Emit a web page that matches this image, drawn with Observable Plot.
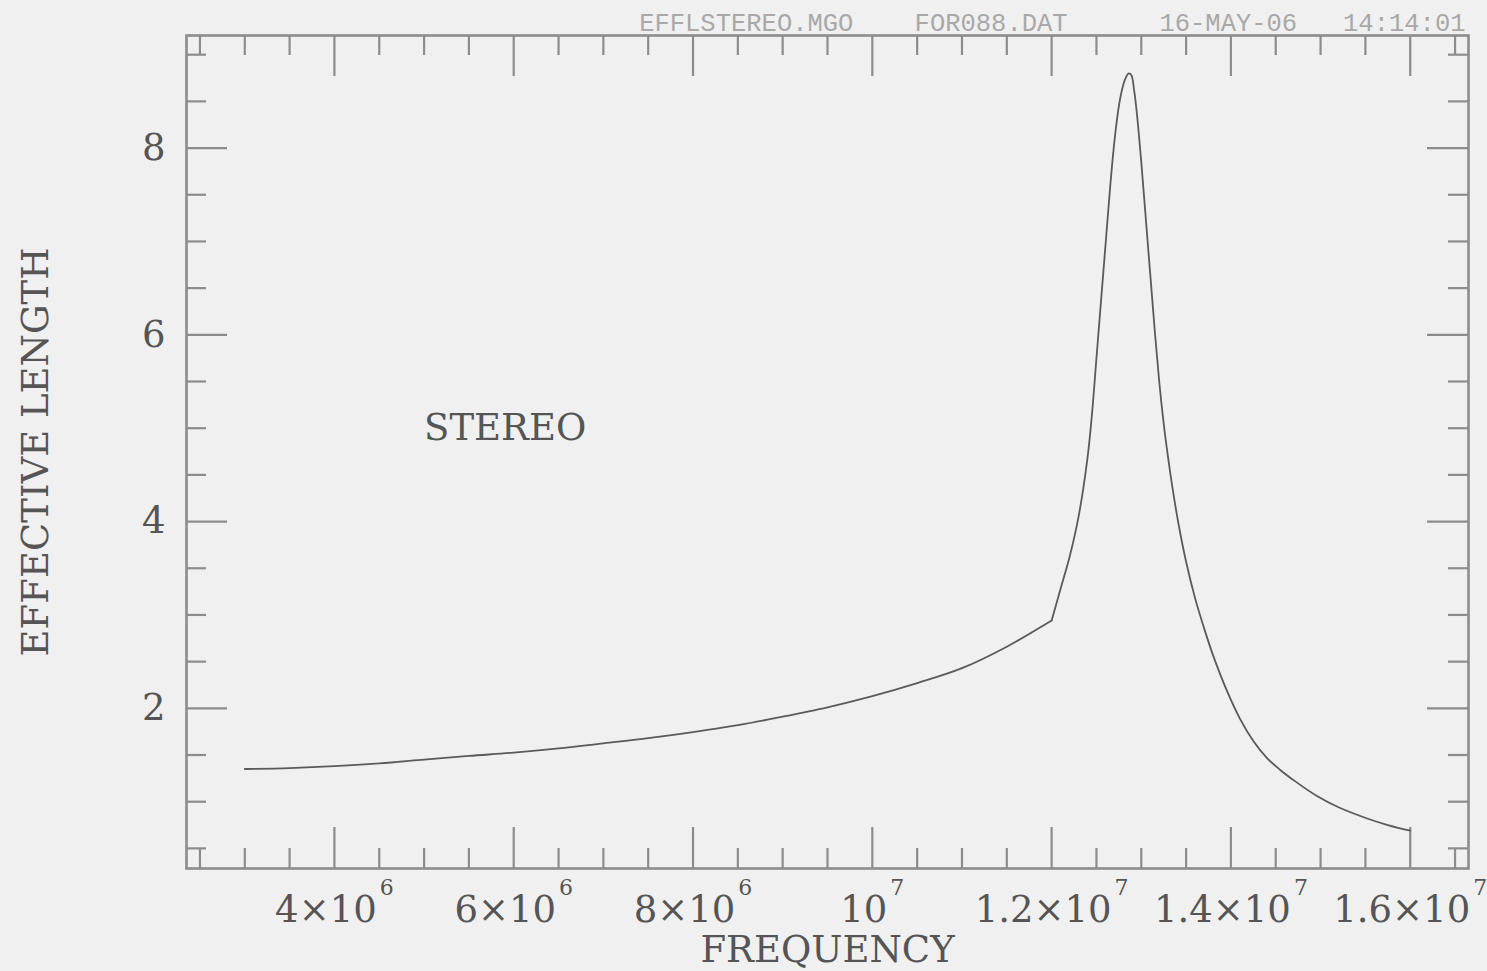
<!DOCTYPE html>
<html>
<head>
<meta charset="utf-8">
<script src="https://cdn.jsdelivr.net/npm/d3@7"></script>
<script src="https://cdn.jsdelivr.net/npm/@observablehq/plot@0.6"></script>
<style>
  html, body { margin: 0; padding: 0; background: #f0f0f0; }
  #chart svg { display: block; }
</style>
</head>
<body>
<div id="chart"></div>
<script>
// ---- data (frequency in units of 1e6 Hz, effective length) ----
const freqMHz = [
  3.0, 3.5, 4.0, 4.5, 5.0, 5.5, 6.0, 6.5, 7.0, 7.5, 8.0, 8.5, 9.0, 9.5, 10.0, 10.5, 11.0, 11.5, 12.0,
  12.1, 12.2, 12.3, 12.4, 12.45, 12.5, 12.55, 12.6, 12.65, 12.7, 12.75, 12.8, 12.83, 12.86, 12.89,
  12.92, 12.95, 13.0, 13.05, 13.1, 13.15, 13.2, 13.25, 13.3, 13.35, 13.42, 13.5, 13.6,
  13.7, 13.8, 13.95, 14.1, 14.25, 14.4, 14.55, 14.7, 14.96, 15.2, 15.52, 15.75, 16.0
];
const effLength = [
  1.35, 1.36, 1.38, 1.41, 1.45, 1.49, 1.525, 1.57, 1.625, 1.68, 1.745, 1.82, 1.91, 2.01, 2.13, 2.27, 2.43, 2.66, 2.94,
  3.28, 3.62, 4.05, 4.68, 5.15, 5.75, 6.35, 6.95, 7.55, 8.07, 8.45, 8.68, 8.76, 8.80, 8.78,
  8.62, 8.38, 7.85, 7.25, 6.65, 6.05, 5.50, 5.05, 4.68, 4.35, 3.95, 3.57, 3.18,
  2.86, 2.57, 2.20, 1.89, 1.65, 1.47, 1.34, 1.23, 1.06, 0.94, 0.82, 0.75, 0.69
];
const kinkMHz = 12.0; // the curve has a sharp corner here

// ---- axes ----
const xMajorTicks = [4e6, 6e6, 8e6, 1e7, 1.2e7, 1.4e7, 1.6e7];
const xTickBase = ["4×10", "6×10", "8×10", "10", "1.2×10", "1.4×10", "1.6×10"];
const xTickExp = ["6", "6", "6", "7", "7", "7", "7"];
const xMinorTicks = [2.5e6, 3e6, 3.5e6, 4.5e6, 5e6, 5.5e6, 6.5e6, 7e6, 7.5e6, 8.5e6, 9e6, 9.5e6,
  1.05e7, 1.1e7, 1.15e7, 1.25e7, 1.3e7, 1.35e7, 1.45e7, 1.5e7, 1.55e7, 1.65e7];
const yMajorTicks = [2, 4, 6, 8];
const yTickLabels = ["2", "4", "6", "8"];
const yMinorTicks = [0.5, 1, 1.5, 2.5, 3, 3.5, 4.5, 5, 5.5, 6.5, 7, 7.5, 8.5, 9];
const xDomain = [2.35e6, 16.65e6];
const yDomain = [0.2845, 9.2055];

const xLabel = "FREQUENCY";
const yLabel = "EFFECTIVE LENGTH";
const annotation = {f: 5e6, L: 5, text: "STEREO"};
const header = "EFFLSTEREO.MGO\u00a0\u00a0\u00a0\u00a0FOR088.DAT\u00a0\u00a0\u00a0\u00a0\u00a0\u00a016-MAY-06\u00a0\u00a0\u00a014:14:01";

const series = freqMHz.map((f, i) => ({f: f * 1e6, L: effLength[i]}));
const lowPart = series.filter(d => d.f <= kinkMHz * 1e6);
const peakPart = series.filter(d => d.f >= kinkMHz * 1e6);

// ---- layout ----
const W = 1487, H = 971;
const mL = 186, mR = 19, mT = 35, mB = 103;
const innerW = W - mL - mR, innerH = H - mT - mB;
const MAJ = 41, MIN = 20;
const axisColor = "#8c8c8c";
const textColor = "#555";
const serif = "'DejaVu Serif', serif";
const FS = 37, FS_EXP = 22, EXP_GAP = 3;

// measure label widths so that "base + exponent" is centred on its tick
const ctx = document.createElement("canvas").getContext("2d");
function textWidth(s, size) { ctx.font = `${size}px 'DejaVu Serif'`; return ctx.measureText(s).width; }
const pxToData = px => px * (xDomain[1] - xDomain[0]) / innerW;
const xTickParts = xMajorTicks.map((t, i) => {
  const wb = textWidth(xTickBase[i], FS);
  const we = textWidth(xTickExp[i], FS_EXP);
  const total = wb + EXP_GAP + we;
  return {
    base: xTickBase[i], exp: xTickExp[i],
    xBase: t + pxToData(-total / 2),
    xExp: t + pxToData(-total / 2 + wb + EXP_GAP)
  };
});

const tickStyle = {stroke: axisColor, strokeWidth: 2.2};
const lineStyle = {x: "f", y: "L", stroke: "#5a5a5a", strokeWidth: 1.8, curve: "catmull-rom"};

const chart = Plot.plot({
  width: W, height: H,
  marginLeft: mL, marginRight: mR, marginTop: mT, marginBottom: mB,
  style: {background: "#f0f0f0", fontFamily: serif, overflow: "visible"},
  x: {domain: xDomain, axis: null},
  y: {domain: yDomain, axis: null},
  marks: [
    // ticks: bottom & top
    Plot.tickX(xMajorTicks, {x: d => d, insetTop: innerH - MAJ, ...tickStyle}),
    Plot.tickX(xMajorTicks, {x: d => d, insetBottom: innerH - MAJ, ...tickStyle}),
    Plot.tickX(xMinorTicks, {x: d => d, insetTop: innerH - MIN, ...tickStyle}),
    Plot.tickX(xMinorTicks, {x: d => d, insetBottom: innerH - MIN, ...tickStyle}),
    // ticks: left & right
    Plot.tickY(yMajorTicks, {y: d => d, insetRight: innerW - MAJ, ...tickStyle}),
    Plot.tickY(yMajorTicks, {y: d => d, insetLeft: innerW - MAJ, ...tickStyle}),
    Plot.tickY(yMinorTicks, {y: d => d, insetRight: innerW - MIN, ...tickStyle}),
    Plot.tickY(yMinorTicks, {y: d => d, insetLeft: innerW - MIN, ...tickStyle}),
    Plot.frame({stroke: axisColor, strokeWidth: 2.6}),
    // curve
    Plot.line(lowPart, lineStyle),
    Plot.line(peakPart, lineStyle),
    // x tick labels: base and raised exponent
    Plot.text(xTickParts, {
      x: "xBase", text: "base", frameAnchor: "bottom",
      textAnchor: "start", lineAnchor: "top", dy: 27, fontSize: FS, fill: textColor, fontFamily: serif
    }),
    Plot.text(xTickParts, {
      x: "xExp", text: "exp", frameAnchor: "bottom",
      textAnchor: "start", lineAnchor: "top", dy: 11, fontSize: FS_EXP, fill: textColor, fontFamily: serif
    }),
    // y tick labels
    Plot.text(yMajorTicks, {
      y: d => d, text: (d, i) => yTickLabels[i], frameAnchor: "left",
      textAnchor: "end", lineAnchor: "middle", dx: -21, fontSize: FS, fill: textColor, fontFamily: serif
    }),
    // axis labels
    Plot.text([xLabel], {
      text: d => d, frameAnchor: "bottom", textAnchor: "middle", lineAnchor: "bottom", dy: 93,
      fontSize: FS, fill: textColor, fontFamily: serif
    }),
    Plot.text([yLabel], {
      text: d => d, frameAnchor: "left", textAnchor: "middle", lineAnchor: "bottom", rotate: -90, dx: -139,
      fontSize: FS, fill: textColor, fontFamily: serif
    }),
    // annotation
    Plot.text([annotation], {
      x: "f", y: "L", text: "text", textAnchor: "start", lineAnchor: "middle",
      fontSize: FS, fill: textColor, fontFamily: serif
    }),
    // header
    Plot.text([header], {
      text: d => d, frameAnchor: "top-right", textAnchor: "end", lineAnchor: "bottom",
      dx: -3, dy: -5, fontSize: 25.5, fill: "#a8a8a8", fontFamily: "'Liberation Mono', monospace"
    })
  ]
});

document.getElementById("chart").appendChild(chart);
</script>
</body>
</html>
